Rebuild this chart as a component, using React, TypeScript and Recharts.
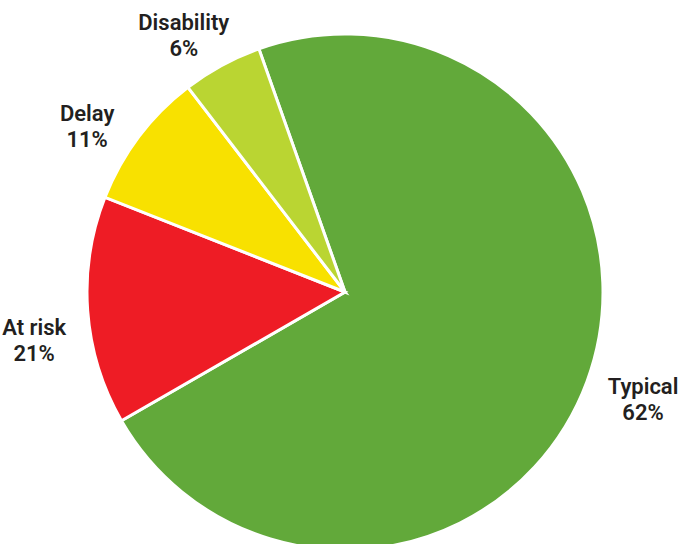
import { PieChart, Pie, Cell } from 'recharts';

// slice sizes as drawn in the picture (the printed percentages differ)
const categories = ['Typical', 'At risk', 'Delay', 'Disability'];
const sliceValues = [72.1, 14.3, 8.6, 5.0];
const percentLabels = ['62%', '21%', '11%', '6%'];
const colors = ['#62A93A', '#EE1C25', '#F8E100', '#BAD532'];

const data = categories.map((name, i) => ({
    name,
    value: sliceValues[i],
    pct: percentLabels[i],
}));

const RADIAN = Math.PI / 180;

function renderLabel(props: any) {
    const { cx, cy, midAngle, outerRadius, index } = props;
    const angle = midAngle + 2.5;
    const r = outerRadius + 55;
    const x = cx + r * Math.cos(-angle * RADIAN);
    const y = cy + r * Math.sin(-angle * RADIAN);
    return (
        <text
            x={x}
            y={y}
            textAnchor="middle"
            fill="#231F20"
            fontFamily="Roboto, sans-serif"
            fontWeight={600}
            fontSize={22}
        >
            <tspan x={x} dy={6}>{data[index].name}</tspan>
            <tspan x={x} dy={26}>{data[index].pct}</tspan>
        </text>
    );
}

export default function App() {
    return (
        <div style={{ position: 'absolute', left: 0, top: 0, width: 683, height: 544, background: '#fff' }}>
            <PieChart width={683} height={544}>
                <Pie
                    data={data}
                    dataKey="value"
                    nameKey="name"
                    cx={340}
                    cy={287}
                    outerRadius={258}
                    startAngle={109.5}
                    endAngle={-250.5}
                    stroke="#ffffff"
                    strokeWidth={3}
                    label={renderLabel}
                    labelLine={false}
                    isAnimationActive={false}
                >
                    {data.map((d, i) => (
                        <Cell key={d.name} fill={colors[i]} />
                    ))}
                </Pie>
            </PieChart>
        </div>
    );
}
